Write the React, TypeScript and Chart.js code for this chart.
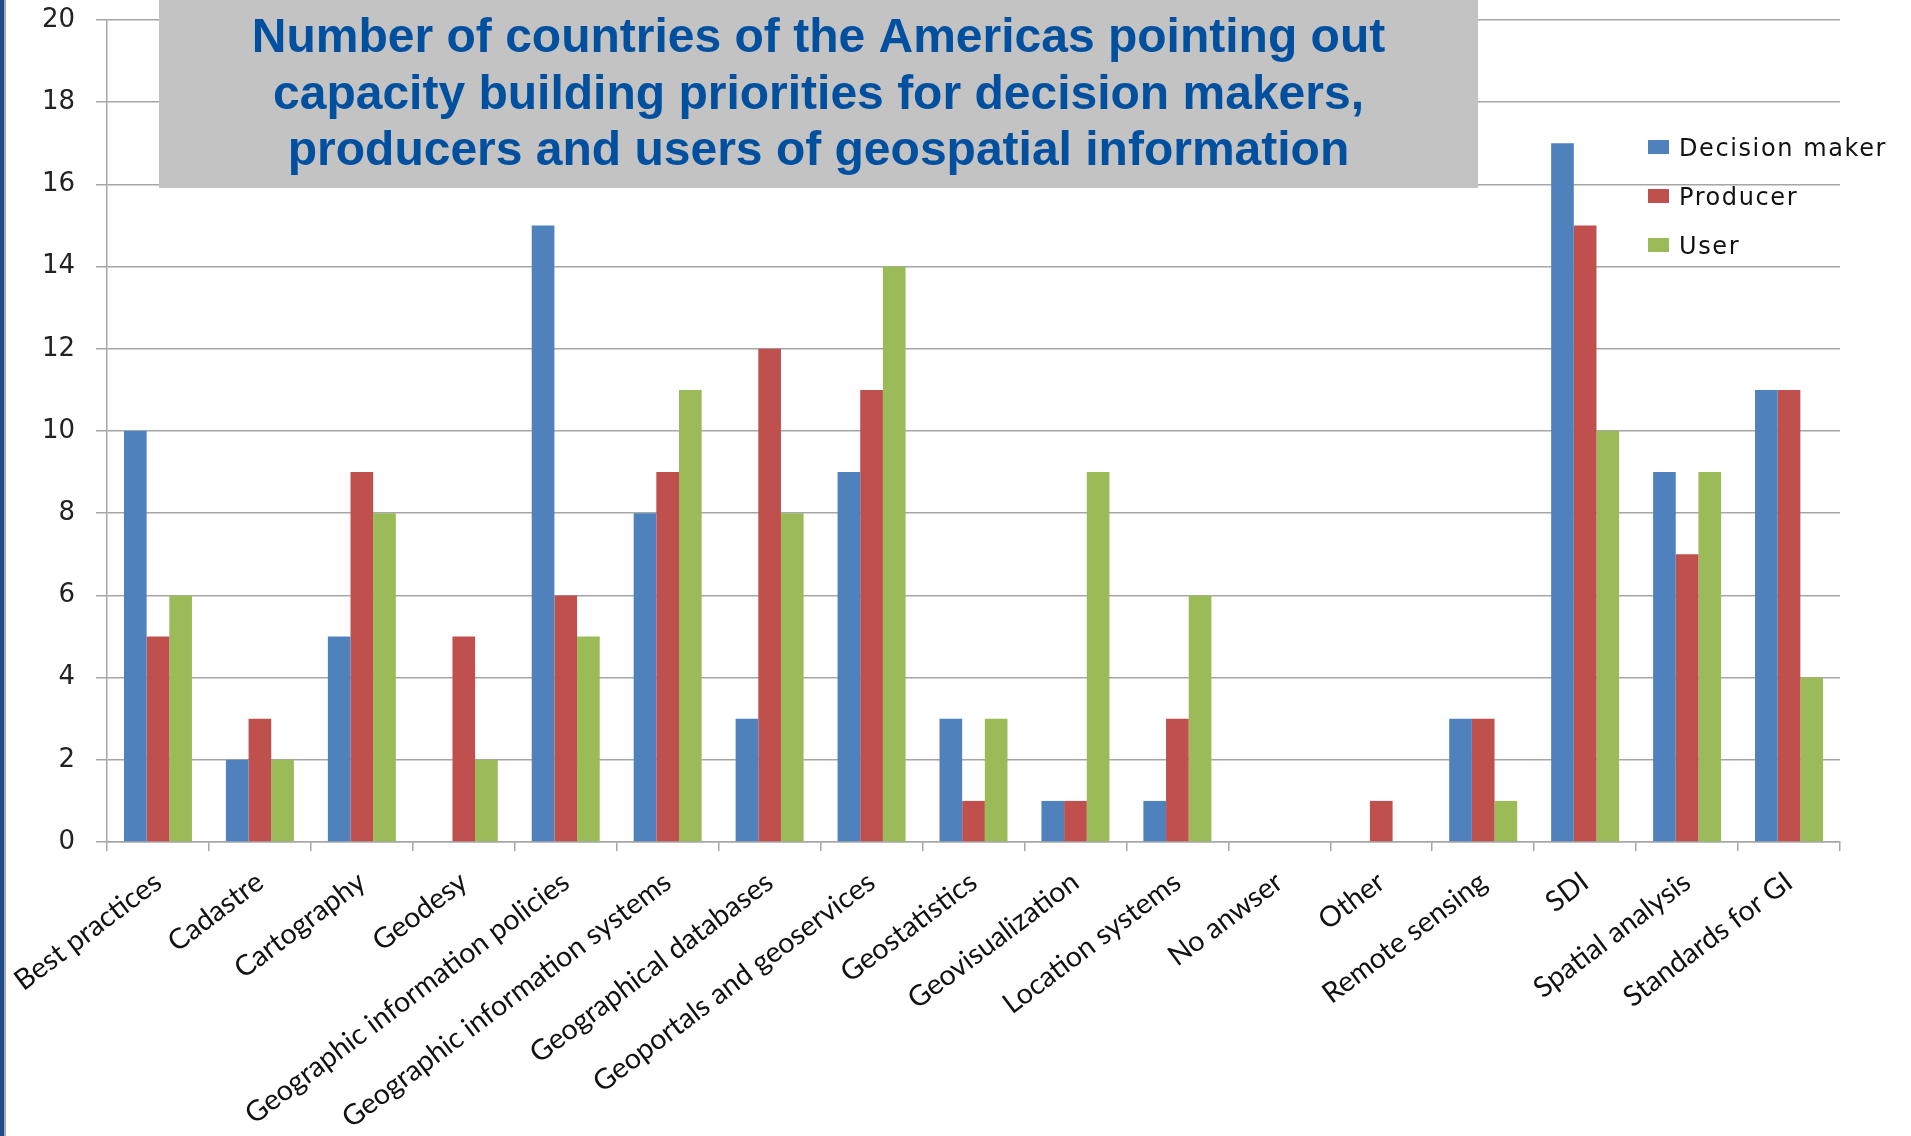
import { useEffect, useRef } from "react";
import { Chart, registerables } from "chart.js";

Chart.register(...registerables);

const categories = [
  "Best practices",
  "Cadastre",
  "Cartography",
  "Geodesy",
  "Geographic information policies",
  "Geographic information systems",
  "Geographical databases",
  "Geoportals and geoservices",
  "Geostatistics",
  "Geovisualization",
  "Location systems",
  "No anwser",
  "Other",
  "Remote sensing",
  "SDI",
  "Spatial analysis",
  "Standards for GI",
];

const decisionMaker = [10, 2, 5, 0, 15, 8, 3, 9, 3, 1, 1, 0, 0, 3, 17, 9, 11];
const producer = [5, 3, 9, 5, 6, 9, 12, 11, 1, 1, 3, 0, 1, 3, 15, 7, 11];
const user = [6, 2, 8, 2, 5, 11, 8, 14, 3, 9, 6, 0, 0, 1, 10, 9, 4];

const seriesNames = ["Decision maker", "Producer", "User"];
const seriesColors = ["#4F81BD", "#C0504D", "#9BBB59"];

const yMin = 0;
const yMax = 20;
const yStep = 2;

const titleLines = [
  "Number of countries of the Americas pointing out",
  "capacity building priorities for decision makers,",
  "producers and users of geospatial information",
];

const GRID = "#A6A6A6";

const decorPlugin = {
  id: "decor",
  beforeDraw(chart: any) {
    const ctx = chart.ctx;
    ctx.save();
    ctx.fillStyle = "#FFFFFF";
    ctx.fillRect(0, 0, chart.width, chart.height);
    ctx.restore();
  },
  afterDraw(chart: any) {
    const ctx = chart.ctx;
    ctx.save();
    // left slide border
    ctx.fillStyle = "#1F4E8C";
    ctx.fillRect(0, 0, 4, chart.height);
    ctx.fillStyle = "#A8A8A8";
    ctx.fillRect(4, 0, 2, chart.height);

    // title box
    ctx.fillStyle = "#C3C3C3";
    ctx.fillRect(159, 0, 1319, 188);
    ctx.fillStyle = "#00509F";
    ctx.font = "bold 48px 'Liberation Sans', Arial, sans-serif";
    ctx.textAlign = "center";
    ctx.textBaseline = "alphabetic";
    titleLines.forEach((line, i) => {
      ctx.fillText(line, 818.5, 52 + i * 56.5);
    });

    // legend
    chart.data.datasets.forEach((ds: any, i: number) => {
      const cy = 147 + i * 49;
      ctx.fillStyle = ds.backgroundColor;
      ctx.fillRect(1648, cy - 7, 21, 14);
      ctx.fillStyle = "#111111";
      ctx.font = "24px 'DejaVu Sans', Verdana, sans-serif";
      ctx.textAlign = "left";
      ctx.textBaseline = "alphabetic";
      (ctx as any).letterSpacing = "1.6px";
      ctx.fillText(ds.label, 1679, cy + 8.5);
      (ctx as any).letterSpacing = "0px";
    });
    ctx.restore();
  },
};

export default function App() {
  const canvasRef = useRef<HTMLCanvasElement | null>(null);

  useEffect(() => {
    if (!canvasRef.current) return;
    const series = [decisionMaker, producer, user];
    const chart = new Chart(canvasRef.current, {
      type: "bar",
      data: {
        labels: categories,
        datasets: series.map((values, i) => ({
          label: seriesNames[i],
          data: values,
          backgroundColor: seriesColors[i],
          borderWidth: 0,
          categoryPercentage: 0.667,
          barPercentage: 1.0,
        })),
      },
      options: {
        responsive: true,
        maintainAspectRatio: false,
        animation: false,
        devicePixelRatio: 1,
        layout: { padding: { top: 20, right: 71, left: 0, bottom: 0 } },
        plugins: {
          legend: { display: false },
          title: { display: false },
          tooltip: { enabled: false },
        },
        scales: {
          x: {
            grid: {
              display: true,
              drawOnChartArea: false,
              drawTicks: true,
              tickLength: 9,
              color: GRID,
              lineWidth: 1.5,
              offset: true,
            },
            border: { display: true, color: GRID, width: 1.5 },
            ticks: {
              autoSkip: false,
              maxRotation: 37,
              minRotation: 37,
              padding: 14,
              color: "#111111",
              font: { family: "Lato, 'Open Sans', sans-serif", size: 28.5 },
            },
            afterFit: (scale: any) => {
              scale.height = 294;
            },
          },
          y: {
            min: yMin,
            max: yMax,
            ticks: {
              stepSize: yStep,
              padding: 21,
              color: "#222222",
              font: { family: "'DejaVu Sans', Verdana, sans-serif", size: 26 },
            },
            grid: {
              color: GRID,
              lineWidth: 1.5,
              drawTicks: true,
              tickLength: 11,
            },
            border: { display: true, color: GRID, width: 1.5 },
            afterFit: (scale: any) => {
              scale.width = 107;
              scale.paddingTop = 0;
              scale.paddingBottom = 0;
            },
          },
        },
      },
      plugins: [decorPlugin],
    });
    return () => chart.destroy();
  }, []);

  return (
    <div style={{ position: "absolute", left: 0, top: 0, width: 1911, height: 1136, background: "#fff" }}>
      <canvas ref={canvasRef} />
    </div>
  );
}
